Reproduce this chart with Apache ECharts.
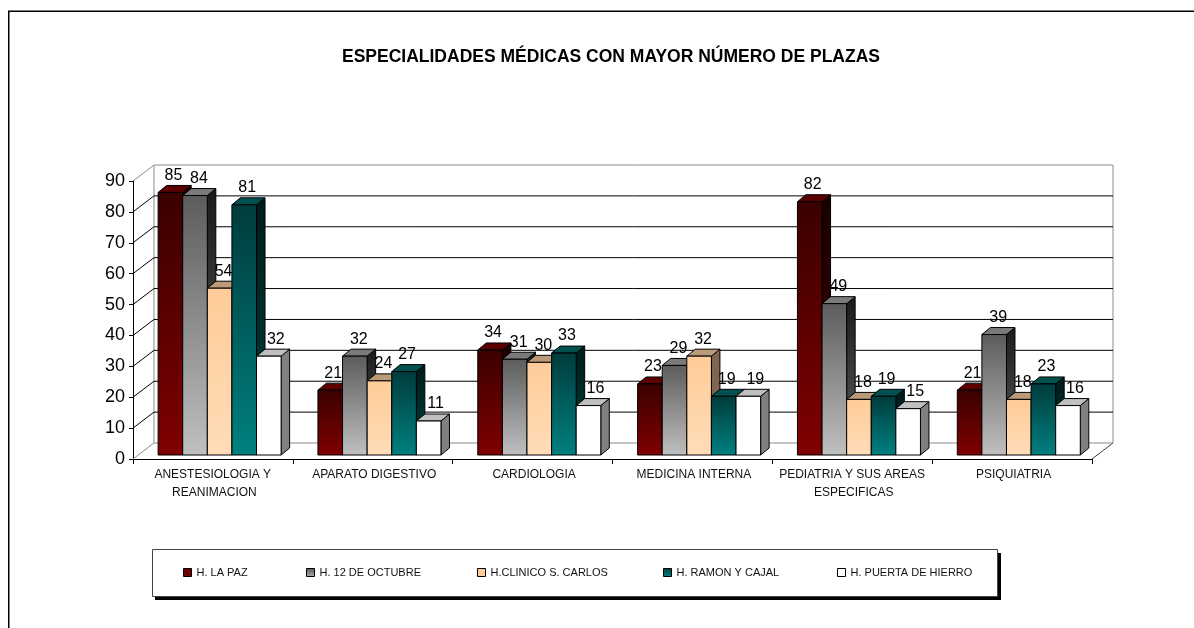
<!DOCTYPE html>
<html>
<head>
<meta charset="utf-8">
<style>
html, body { margin: 0; padding: 0; background: #fff; }
#chart { width: 1194px; height: 628px; }
</style>
<script src="https://cdn.jsdelivr.net/npm/echarts@6/dist/echarts.min.js"></script>
</head>
<body>
<div id="chart"></div>
<script>
const titleText = 'ESPECIALIDADES MÉDICAS CON MAYOR NÚMERO DE PLAZAS';
const categories = ['ANESTESIOLOGIA Y REANIMACION', 'APARATO DIGESTIVO', 'CARDIOLOGIA', 'MEDICINA INTERNA', 'PEDIATRIA Y SUS AREAS ESPECIFICAS', 'PSIQUIATRIA'];
const seriesNames = ['H. LA PAZ', 'H. 12 DE OCTUBRE', 'H.CLINICO S. CARLOS', 'H. RAMON Y CAJAL', 'H. PUERTA DE HIERRO'];
const laPaz = [85, 21, 34, 23, 82, 21];
const octubre = [84, 32, 31, 29, 49, 39];
const clinico = [54, 24, 30, 32, 18, 18];
const ramonCajal = [81, 27, 33, 19, 19, 23];
const puertaHierro = [32, 11, 16, 19, 15, 16];
const yTicks = [0, 10, 20, 30, 40, 50, 60, 70, 80, 90];

const allValues = [laPaz, octubre, clinico, ramonCajal, puertaHierro];
const FONT = '"Liberation Sans", Arial, sans-serif';

// 3d look: back wall offset, bar plane offset, bar depth
const WALL_DX = 21, WALL_DY = -16;
const BAR_DX = 6.7, BAR_DY = -4;
const DEPTH_DX = 8.5, DEPTH_DY = -7;
const BAR_W = 24.6;

function grad(a, b) {
  return { type: 'linear', x: 0, y: 0, x2: 0, y2: 1, colorStops: [{ offset: 0, color: a }, { offset: 1, color: b }] };
}

const looks = [
  { front: grad('#3a0000', '#800000'), side: grad('#1a0000', '#400000'), top: '#5a0000', key: '#6e0000' },
  { front: grad('#5c5c5c', '#c0c0c0'), side: grad('#1a1a1a', '#606060'), top: '#7a7a7a', key: grad('#555555', '#b0b0b0') },
  { front: grad('#ffcc99', '#ffdcb8'), side: grad('#806650', '#806650'), top: '#bb9a78', key: '#ffcc99' },
  { front: grad('#003c3c', '#008080'), side: grad('#001a1a', '#004040'), top: '#005050', key: grad('#004040', '#008080') },
  { front: '#ffffff', side: '#808080', top: '#c0c0c0', key: '#ffffff' }
];
const legendLeft = [183, 306, 477, 663, 837];
const labelDx = [3, 4, 4, 3, 7];

function renderBar(i) {
  return function (params, api) {
    const cat = api.value(0), val = api.value(1);
    const base = api.coord([cat, 0]);
    const head = api.coord([cat, val]);
    const x0 = base[0] + (i - 2.5) * BAR_W + BAR_DX;
    const x1 = x0 + BAR_W;
    const yb = base[1] + BAR_DY;
    const yt = head[1] + BAR_DY;
    const look = looks[i];
    const stroke = { stroke: '#000', lineWidth: 1 };
    return {
      type: 'group',
      children: [
        { type: 'polygon', z2: i * 3 + 1, shape: { points: [[x1, yb], [x1 + DEPTH_DX, yb + DEPTH_DY], [x1 + DEPTH_DX, yt + DEPTH_DY], [x1, yt]] }, style: Object.assign({ fill: look.side }, stroke) },
        { type: 'polygon', z2: i * 3 + 2, shape: { points: [[x0, yt], [x0 + DEPTH_DX, yt + DEPTH_DY], [x1 + DEPTH_DX, yt + DEPTH_DY], [x1, yt]] }, style: Object.assign({ fill: look.top }, stroke) },
        { type: 'rect', z2: i * 3 + 3, shape: { x: x0, y: yt, width: BAR_W, height: yb - yt }, style: Object.assign({ fill: look.front }, stroke) },
        { type: 'text', z2: 100, style: { x: x0 + BAR_W / 2 + labelDx[i], y: yt - 17, text: String(val), fill: '#000', font: '16px ' + FONT, align: 'center', verticalAlign: 'middle' } }
      ]
    };
  };
}

function renderWall(params, api) {
  const v = api.value(1);
  const p = api.coord([0, v]);
  const cs = params.coordSys;
  const y = p[1];
  const edge = v === 0 || v === 90;
  const col = edge ? '#8c8c8c' : '#000';
  const l = cs.x, r = cs.x + cs.width;
  const children = [
    { type: 'line', shape: { x1: l + WALL_DX, y1: y + WALL_DY, x2: r + WALL_DX, y2: y + WALL_DY }, style: { stroke: col, lineWidth: 1 } },
    { type: 'line', shape: { x1: l, y1: y, x2: l + WALL_DX, y2: y + WALL_DY }, style: { stroke: col, lineWidth: 1 } }
  ];
  if (v === 0) {
    children.push({ type: 'line', shape: { x1: r, y1: y, x2: r + WALL_DX, y2: y + WALL_DY }, style: { stroke: '#444', lineWidth: 1 } });
    children.push({ type: 'line', shape: { x1: l + WALL_DX, y1: y + WALL_DY, x2: l + WALL_DX, y2: cs.y + WALL_DY }, style: { stroke: '#8c8c8c', lineWidth: 1 } });
    children.push({ type: 'line', shape: { x1: r + WALL_DX, y1: y + WALL_DY, x2: r + WALL_DX, y2: cs.y + WALL_DY }, style: { stroke: '#8c8c8c', lineWidth: 1 } });
  }
  return { type: 'group', children: children };
}

const chart = echarts.init(document.getElementById('chart'));

const series = [{
  type: 'custom',
  silent: true,
  renderItem: renderWall,
  data: yTicks.map(v => [0, v])
}];
allValues.forEach((vals, i) => {
  series.push({
    type: 'custom',
    name: seriesNames[i],
    renderItem: renderBar(i),
    itemStyle: { color: '#000' },
    data: vals.map((v, c) => [c, v])
  });
});

const option = {
  animation: false,
  backgroundColor: '#fff',
  title: {
    text: titleText,
    left: 606,
    top: 43,
    textAlign: 'center',
    textStyle: { fontFamily: FONT, fontSize: 17.5, fontWeight: 'bold', color: '#000' }
  },
  grid: { left: 133, right: 102, top: 181, bottom: 169 },
  legend: seriesNames.map((name, i) => ({
    left: legendLeft[i],
    top: 567,
    padding: 0,
    itemWidth: 8,
    itemHeight: 8,
    selectedMode: false,
    textStyle: { fontFamily: FONT, fontSize: 11, color: '#111', padding: [1, 0, 0, 0] },
    data: [{
      name: name,
      icon: 'rect',
      itemStyle: { color: looks[i].key, borderColor: '#000', borderWidth: 1 }
    }]
  })),
  xAxis: {
    type: 'category',
    data: categories,
    axisLine: { show: true, lineStyle: { color: '#000', width: 1 } },
    axisTick: { show: true, length: 5, lineStyle: { color: '#000' } },
    axisLabel: {
      fontFamily: FONT, fontSize: 12, color: '#111', margin: 7,
      lineHeight: 18, width: 155, overflow: 'break', interval: 0,
      padding: [0, 0, 0, 3]
    }
  },
  yAxis: {
    type: 'value',
    min: 0,
    max: 90,
    interval: 10,
    splitLine: { show: false },
    axisLine: { show: true, lineStyle: { color: '#000', width: 1 } },
    axisTick: { show: true, length: 4, lineStyle: { color: '#000' } },
    axisLabel: { fontFamily: FONT, fontSize: 18, color: '#000', margin: 8 }
  },
  graphic: [
    { type: 'line', shape: { x1: 8, y1: 11.25, x2: 1194, y2: 11.25 }, style: { stroke: '#000', lineWidth: 1.5 } },
    { type: 'line', shape: { x1: 8.75, y1: 11, x2: 8.75, y2: 628 }, style: { stroke: '#000', lineWidth: 1.5 } },
    { type: 'rect', z: -1, shape: { x: 155, y: 553, width: 846, height: 47 }, style: { fill: '#000' } },
    { type: 'rect', z: -1, shape: { x: 152.5, y: 549.5, width: 845, height: 47 }, style: { fill: '#fff', stroke: '#444', lineWidth: 1 } }
  ],
  series: series
};
chart.setOption(option);
</script>
</body>
</html>
